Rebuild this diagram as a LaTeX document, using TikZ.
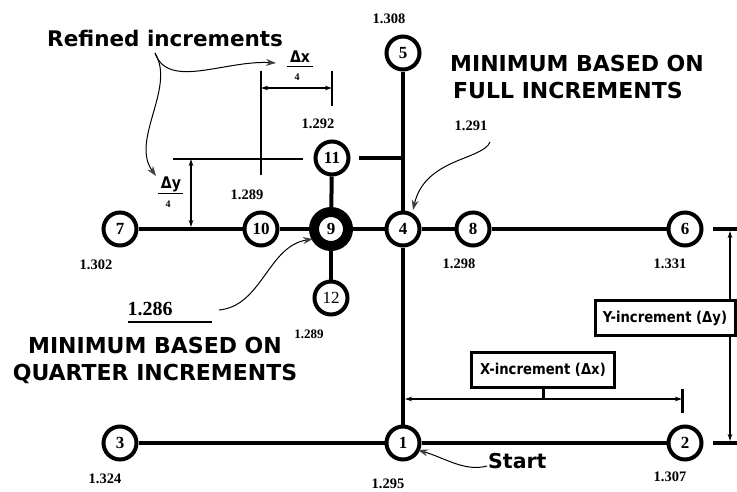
\documentclass[tikz,border=0pt]{standalone}
\usepackage{fontspec}
\setmainfont{Liberation Serif}
\newfontfamily\hfont{DejaVu Sans}
\newfontfamily\hfontc[FakeStretch=0.88]{DejaVu Sans}
\usetikzlibrary{arrows.meta}
\begin{document}
\begin{tikzpicture}[x=1pt,y=-1pt,
  nd/.style={circle,draw,line width=4pt,minimum size=33pt,inner sep=0pt,fill=white,font=\fontsize{17}{17}\selectfont\bfseries},
  bignd/.style={nd,line width=10pt,minimum size=34pt},
  edge/.style={line width=4pt},
  val/.style={font=\fontsize{14.5}{14.5}\selectfont\bfseries,anchor=base,inner sep=0pt},
  head/.style={font=\hfont\bfseries\fontsize{22}{27}\selectfont,inner sep=0pt},
  dim/.style={line width=1.1pt},
  dimarr/.style={dim,{Stealth[length=7pt,width=4.5pt]}-{Stealth[length=7pt,width=4.5pt]}},
  callout/.style={line width=1pt,-{Stealth[length=10pt,width=7pt,color=black!75]}},
  box/.style={draw,line width=3pt,fill=white,font=\hfontc\bfseries\fontsize{15}{16}\selectfont,minimum height=35pt,inner xsep=4pt},
  frac/.style={font=\hfontc\bfseries\fontsize{16}{16}\selectfont,inner sep=1pt},
  den/.style={font=\fontsize{10}{10}\selectfont\bfseries,inner sep=0pt},
]
\useasboundingbox (0,0) rectangle (737,491);

% nodes
\node[nd] (n5) at (403,53) {5};
\node[nd] (n11) at (332,158) {11};
\node[nd] (n7) at (120,229) {7};
\node[nd] (n10) at (261,229) {10};
\node[bignd] (n9) at (331,229) {9};
\node[nd] (n4) at (403,229) {4};
\node[nd] (n8) at (473,229) {8};
\node[nd] (n6) at (685,229) {6};
\node[nd,font=\fontsize{17}{17}\selectfont] (n12) at (331,298) {12};
\node[nd] (n3) at (120,443) {3};
\node[nd] (n1) at (403,443) {1};
\node[nd] (n2) at (685,443) {2};

% connectors
\draw[edge] (n5) -- (n4);
\draw[edge] (n4) -- (n1);
\draw[edge] (n7) -- (n10);
\draw[edge] (n10) -- (n9);
\draw[edge] (n9) -- (n4);
\draw[edge] (n4) -- (n8);
\draw[edge] (n8) -- (n6);
\draw[edge] (n9) -- (n11);
\draw[edge] (n9) -- (n12);
\draw[edge] (n3) -- (n1);
\draw[edge] (n1) -- (n2);
\coordinate (stub) at (359,158);
\draw[edge] (stub) -- (stub -| n4);

% values
\node[val] (v5) at (389,23) {1.308};
\node[val] (v11) at (318,128) {1.292};
\node[val] (v10) at (247,199) {1.289};
\node[val] (v4) at (471,130) {1.291};
\node[val] (v7) at (96,269) {1.302};
\node[val] (v8) at (459,268) {1.298};
\node[val] (v6) at (670,268) {1.331};
\node[val,font=\fontsize{13}{13}\selectfont\bfseries] (v12) at (309,338) {1.289};
\node[val,font=\fontsize{20}{20}\selectfont\bfseries] (v9) at (150,315) {1.286};
\node[val] (v3) at (105,483) {1.324};
\node[val] (v2) at (670,481) {1.307};
\node[val] (v1) at (388,488) {1.295};
\draw[line width=1.2pt] (128,322) -- (212,322);

% headings
\node[head,anchor=base west,font=\hfont\bfseries\fontsize{21.5}{27}\selectfont] (ref) at (47,46) {Refined increments};
\node[head,anchor=north west,align=left] (full) at (450,55) {MINIMUM BASED ON\\\hspace{3pt}FULL INCREMENTS};
\node[head,anchor=north,align=center] (quart) at (155,337) {MINIMUM BASED ON\\QUARTER INCREMENTS};
\node[head,anchor=base west,font=\hfont\bfseries\fontsize{20.5}{20}\selectfont] (start) at (488,468) {Start};

% fractions
\node[frac,anchor=base] (dxn) at (300,62) {Δx};
\draw[line width=1pt] (287,66) -- (313,66);
\node[den] (dxd) at (297,77) {4};
\node[frac,anchor=base] (dyn) at (171,188) {Δy};
\draw[line width=1pt] (158,193) -- (183,193);
\node[den] (dyd) at (168,204) {4};

% dx/4 dimension
\coordinate (dxa) at (261,71);
\coordinate (dxb) at (261,175);
\coordinate (dxc) at (332,71);
\coordinate (dxe) at (332,106);
\draw[dim] (dxa) -- (dxb);
\draw[dim] (dxc) -- (dxe);
\draw[dimarr] (261,88) -- (332,88);

% dy/4 dimension
\coordinate (dya) at (173,159);
\coordinate (dyb) at (303,159);
\draw[dim] (dya) -- (dyb);
\draw[dimarr] (191,159) -- (191,227);

% Y increment
\coordinate (ytl) at (713,229);
\coordinate (ytr) at (737,229);
\coordinate (ybl) at (713,443);
\coordinate (ybr) at (737,443);
\draw[edge] (ytl) -- (ytr);
\draw[edge] (ybl) -- (ybr);
\draw[dimarr] (730,231) -- (730,441);
\node[box,minimum width=140pt] (ybox) at (665,318) {Y-increment (Δy)};

% X increment
\coordinate (xl) at (405,399);
\coordinate (xr) at (682,399);
\draw[dimarr] (xl) -- (xr);
\draw[line width=3pt] (682,389) -- (682,413);
\node[box,minimum width=143pt] (xbox) at (543,370) {X-increment (Δx)};
\draw[line width=3pt] (xbox.south) -- (xbox.south |- xl);

% callouts
\coordinate (rc) at (155,53);
\draw[callout] (rc) .. controls (168,90) and (225,60) .. (276,63);
\draw[callout] (rc) .. controls (176,88) and (130,140) .. (156,176);
\draw[callout] (490,142) .. controls (483,160) and (425,158) .. (413,210);
\draw[callout] (219,310) .. controls (262,306) and (268,246) .. (313,239);
\draw[callout] (487,466) .. controls (465,472) and (445,458) .. (418,450);
\end{tikzpicture}
\end{document}
